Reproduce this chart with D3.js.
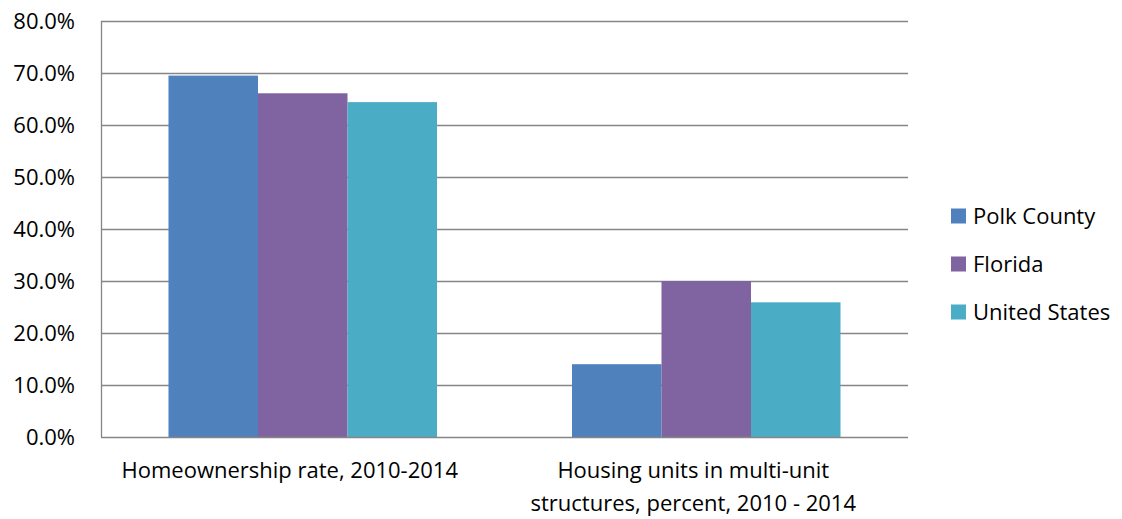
<!DOCTYPE html>
<html>
<head>
<meta charset="utf-8">
<script src="https://cdn.jsdelivr.net/npm/d3@7"></script>
<style>
  body { margin: 0; background: #fff; }
  text { font-family: "Open Sans", "Noto Sans", sans-serif; fill: #000; }
</style>
</head>
<body>
<div id="chart"></div>
<script>
var categories = ["Homeownership rate, 2010-2014",
                  "Housing units in multi-unit|structures, percent, 2010 - 2014"];
var seriesNames = ["Polk County", "Florida", "United States"];
var polkValues = [69.5, 14.0];
var floridaValues = [66.1, 30.0];
var usValues = [64.4, 25.9];
var yTicks = [0, 10, 20, 30, 40, 50, 60, 70, 80];
var colors = ["#4F81BD", "#8064A2", "#4BACC6"];

var width = 1122,
    height = 519,
    plotLeft = 101, plotRight = 908, plotTop = 21, plotBottom = 437,
    fontSize = "22px";

var seriesValues = [polkValues, floridaValues, usValues];

var svg = d3.select("#chart").append("svg")
    .attr("width", width)
    .attr("height", height);

var x0 = d3.scaleBand().domain(d3.range(categories.length))
    .range([plotLeft, plotRight]).paddingInner(0).paddingOuter(0);
// outer padding is in step units: 3 bars of ~89.5px inside a ~403px band
var x1 = d3.scaleBand().domain(d3.range(seriesNames.length))
    .range([0, x0.bandwidth()]).paddingInner(0).paddingOuter(0.754);
var y = d3.scaleLinear().domain([0, 80]).range([plotBottom, plotTop]);

// gridlines
svg.append("g").selectAll("line")
    .data(yTicks.filter(function (d) { return d > 0; }))
    .join("line")
    .attr("x1", plotLeft).attr("x2", plotRight)
    .attr("y1", function (d) { return Math.round(y(d)) + 0.5; })
    .attr("y2", function (d) { return Math.round(y(d)) + 0.5; })
    .attr("stroke", "#868686").attr("stroke-width", 1.3);

// y axis labels
var yAxis = d3.axisLeft(y).tickValues(yTicks)
    .tickFormat(function (d) { return d.toFixed(1) + "%"; })
    .tickSize(0).tickPadding(26);
var gy = svg.append("g").attr("transform", "translate(" + plotLeft + ",0)").call(yAxis);
gy.select(".domain").remove();
gy.selectAll("text").style("font-size", fontSize).attr("fill", "#000")
    .style("font-family", "'Open Sans', sans-serif");

// bars
var groups = svg.append("g").selectAll("g")
    .data(categories)
    .join("g")
    .attr("transform", function (d, i) { return "translate(" + x0(i) + ",0)"; });

groups.selectAll("rect")
    .data(function (d, i) {
      return seriesValues.map(function (vals, s) { return {s: s, v: vals[i]}; });
    })
    .join("rect")
    .attr("x", function (d) { return x1(d.s); })
    .attr("width", x1.bandwidth())
    .attr("y", function (d) { return y(d.v); })
    .attr("height", function (d) { return plotBottom - y(d.v); })
    .attr("fill", function (d) { return colors[d.s]; });

// axis lines
svg.append("line")
    .attr("x1", plotLeft + 0.5).attr("x2", plotLeft + 0.5)
    .attr("y1", plotTop).attr("y2", plotBottom)
    .attr("stroke", "#868686").attr("stroke-width", 1.3);
svg.append("line")
    .attr("x1", plotLeft).attr("x2", plotRight)
    .attr("y1", plotBottom + 0.5).attr("y2", plotBottom + 0.5)
    .attr("stroke", "#868686").attr("stroke-width", 1.3);

// category labels
svg.append("g").selectAll("text")
    .data(categories)
    .join("text")
    .attr("text-anchor", "middle")
    .attr("x", function (d, i) { return x0(i) + x0.bandwidth() / 2 - 13; })
    .attr("y", 478)
    .style("font-size", fontSize)
    .each(function (d) {
      var t = d3.select(this);
      d.split("|").forEach(function (line, k) {
        t.append("tspan")
            .attr("x", t.attr("x"))
            .attr("dy", k === 0 ? 0 : 33)
            .text(line);
      });
    });

// legend
var legend = svg.append("g").selectAll("g")
    .data(seriesNames)
    .join("g")
    .attr("transform", function (d, i) { return "translate(951," + (216 + i * 48) + ")"; });
legend.append("rect")
    .attr("x", 0).attr("y", -7.5)
    .attr("width", 15).attr("height", 15)
    .attr("fill", function (d, i) { return colors[i]; });
legend.append("text")
    .attr("x", 22).attr("y", 0)
    .attr("dy", "0.35em")
    .style("font-size", fontSize)
    .text(function (d) { return d; });
</script>
</body>
</html>
